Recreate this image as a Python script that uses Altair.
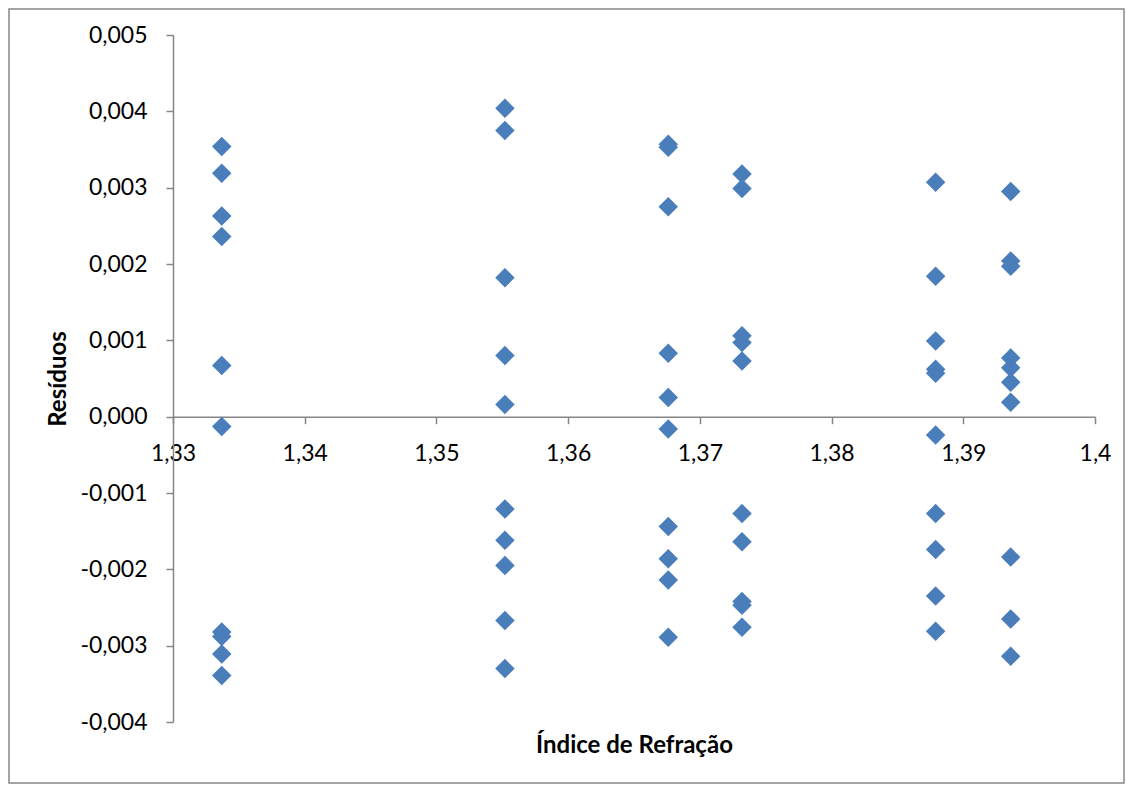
import altair as alt
import pandas as pd

# x positions (refractive index) of each group of residuals
x_groups = [1.3337, 1.3552, 1.3676, 1.3732, 1.3879, 1.3936]

# residuals, one list per group
res_g1 = [0.00354, 0.00319, 0.00263, 0.00236, 0.00067, -0.00013,
          -0.00282, -0.00288, -0.00311, -0.00339]
res_g2 = [0.00404, 0.00375, 0.00182, 0.00080, 0.00016,
          -0.00121, -0.00162, -0.00195, -0.00267, -0.00330]
res_g3 = [0.00357, 0.00353, 0.00275, 0.00083, 0.00025, -0.00016,
          -0.00144, -0.00186, -0.00214, -0.00289]
res_g4 = [0.00318, 0.00299, 0.00106, 0.00097, 0.00073,
          -0.00127, -0.00164, -0.00242, -0.00247, -0.00276]
res_g5 = [0.00307, 0.00184, 0.00099, 0.00062, 0.00057, -0.00024,
          -0.00127, -0.00174, -0.00235, -0.00281]
res_g6 = [0.00295, 0.00204, 0.00197, 0.00077, 0.00064, 0.00045, 0.00019,
          -0.00184, -0.00265, -0.00314]

x_ticks = [1.33, 1.34, 1.35, 1.36, 1.37, 1.38, 1.39, 1.40]
y_ticks = [-0.004, -0.003, -0.002, -0.001, 0.0, 0.001, 0.002, 0.003, 0.004, 0.005]

rows = []
for xv, ys in zip(x_groups, [res_g1, res_g2, res_g3, res_g4, res_g5, res_g6]):
    for yv in ys:
        rows.append({"indice": xv, "residuo": yv})
df = pd.DataFrame(rows)

W, H = 922, 687
FONT = "Lato"
AXIS_COLOR = "#868686"
# pixel offset to put the x axis at y = 0
x_axis_offset = -H * (0 - y_ticks[0]) / (y_ticks[-1] - y_ticks[0])

border = alt.Chart(alt.Data(values=[{}])).mark_rect(
    filled=False, fillOpacity=0, stroke=AXIS_COLOR, strokeWidth=1.5
).encode(
    x=alt.value(-164), x2=alt.value(951),
    y=alt.value(-26), y2=alt.value(748),
)

points = alt.Chart(df).mark_point(
    shape="diamond", filled=True, size=380, color="#4A7EBB", opacity=1
).encode(
    x=alt.X(
        "indice:Q",
        scale=alt.Scale(domain=[x_ticks[0], x_ticks[-1]], nice=False, zero=False),
        axis=alt.Axis(
            values=x_ticks,
            labelExpr="replace(format(datum.value, '.2~f'), '.', ',')",
            title="Índice de Refração",
            offset=x_axis_offset,
            titleX=W / 2,
            titleY=336,
            titleBaseline="alphabetic",
            titleAnchor="middle",
            titleAlign="center",
            zindex=0,
        ),
    ),
    y=alt.Y(
        "residuo:Q",
        scale=alt.Scale(domain=[y_ticks[0], y_ticks[-1]], nice=False, zero=False),
        axis=alt.Axis(
            values=y_ticks,
            labelExpr="replace(replace(format(datum.value, '.3f'), '.', ','), '\u2212', '-')",
            title="Resíduos",
            titleX=-108,
            titleY=H / 2,
            titleAngle=270,
            titleBaseline="alphabetic",
            titleAlign="center",
            zindex=0,
        ),
    ),
)

chart = alt.layer(border, points).properties(
    width=W, height=H,
    autosize=alt.AutoSizeParams(type="none"),
    padding={"left": 165, "top": 27, "right": 30, "bottom": 62},
    background="white",
).configure_view(
    stroke=None
).configure_axis(
    grid=False,
    domainColor=AXIS_COLOR,
    domainWidth=1.5,
    tickColor=AXIS_COLOR,
    tickWidth=1.5,
    tickSize=7,
    labelFont=FONT,
    labelFontSize=23,
    labelColor="black",
    labelPadding=19,
    labelFlush=False,
    labelOverlap=False,
    titleFont=FONT,
    titleFontSize=24,
    titleFontWeight="bold",
    titleColor="black",
)

chart.save("out.html", embed_options={"renderer": "svg", "actions": False})
